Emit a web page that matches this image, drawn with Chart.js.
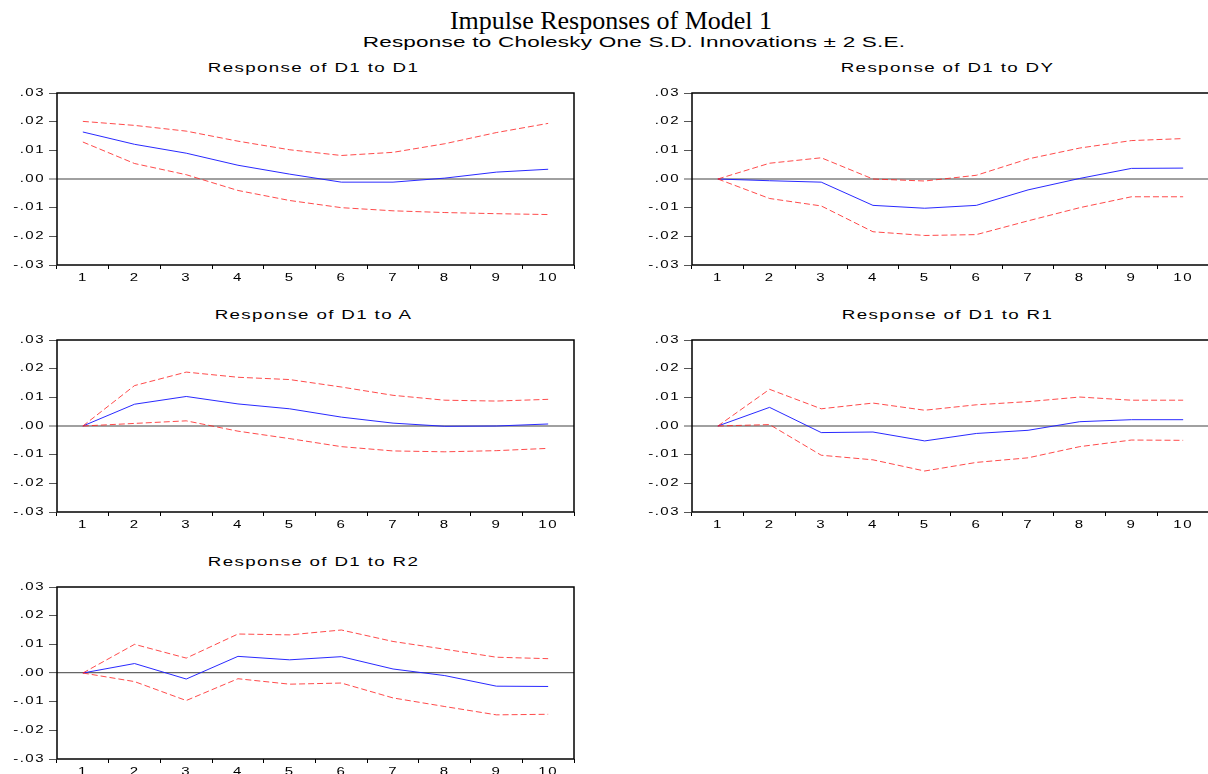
<!DOCTYPE html>
<html>
<head>
<meta charset="utf-8">
<title>Impulse Responses of Model 1</title>
<script src="https://cdn.jsdelivr.net/npm/chart.js@4.4.1/dist/chart.umd.min.js"></script>
<style>
  body {
    margin: 0;
    width: 1208px;
    height: 774px;
    overflow: hidden;
    position: relative;
    background: #fff;
    font-family: "Liberation Sans", Arial, sans-serif;
    color: #000;
  }
  .txt { position: absolute; white-space: nowrap; text-align: center; }
  #title {
    font-family: "Liberation Serif", "Times New Roman", serif;
    font-size: 26px; line-height: 26px;
    left: 311px; width: 600px; top: 8px;
  }
  /* the sans-serif labels are drawn wide, like the rest of the graph text */
  .wide { transform: scaleX(1.5); transform-origin: 50% 50%; }
  #subtitle {
    font-size: 15px; line-height: 15px; letter-spacing: 0.15px;
    left: 334px; width: 600px; top: 34px;
  }
  .ptitle { font-size: 12.5px; line-height: 12.5px; letter-spacing: 0.9px; width: 517px; }
  .panel { position: absolute; }
</style>
</head>
<body>
<div id="title" class="txt">Impulse Responses of Model 1</div>
<div id="subtitle" class="txt wide">Response to Cholesky One S.D. Innovations ± 2 S.E.</div>

<div class="txt ptitle wide" style="left:55px; top:62px;">Response of D1 to D1</div>
<div class="txt ptitle wide" style="left:689px; top:62px;">Response of D1 to DY</div>
<div class="txt ptitle wide" style="left:55px; top:309px;">Response of D1 to A</div>
<div class="txt ptitle wide" style="left:689px; top:309px;">Response of D1 to R1</div>
<div class="txt ptitle wide" style="left:55px; top:556px;">Response of D1 to R2</div>

<canvas id="c1" class="panel" width="576" height="212" style="left:0px; top:83px;"></canvas>
<canvas id="c2" class="panel" width="576" height="212" style="left:635px; top:83px;"></canvas>
<canvas id="c3" class="panel" width="576" height="212" style="left:0px; top:330px;"></canvas>
<canvas id="c4" class="panel" width="576" height="212" style="left:635px; top:330px;"></canvas>
<canvas id="c5" class="panel" width="576" height="212" style="left:0px; top:577px;"></canvas>

<script>
// horizon (periods after the shock)
var periods = ["1", "2", "3", "4", "5", "6", "7", "8", "9", "10"];
var yTickLabels = ["-.03", "-.02", "-.01", ".00", ".01", ".02", ".03"];

// response of D1 to D1, with +/- 2 S.E. bands
var d1D1 = [0.0164, 0.0121, 0.0090, 0.0048, 0.0017, -0.0011, -0.0011, 0.0003, 0.0024, 0.0034];
var d1D1Hi = [0.0201, 0.0187, 0.0167, 0.0132, 0.0102, 0.0082, 0.0093, 0.0123, 0.0162, 0.0194];
var d1D1Lo = [0.0129, 0.0054, 0.0015, -0.0040, -0.0075, -0.0100, -0.0111, -0.0117, -0.0121, -0.0124];

// response of D1 to DY
var d1DY = [0.0, -0.0006, -0.0011, -0.0092, -0.0102, -0.0092, -0.0038, 0.0002, 0.0037, 0.0038];
var d1DYHi = [0.0, 0.0055, 0.0074, 0.0, -0.0007, 0.0013, 0.0070, 0.0108, 0.0134, 0.0141];
var d1DYLo = [0.0, -0.0068, -0.0094, -0.0184, -0.0197, -0.0194, -0.0146, -0.0100, -0.0062, -0.0062];

// response of D1 to A
var d1A = [0.0, 0.0076, 0.0103, 0.0077, 0.0060, 0.0031, 0.0010, -0.0001, 0.0, 0.0007];
var d1AHi = [0.0, 0.0141, 0.0188, 0.0170, 0.0162, 0.0136, 0.0107, 0.0090, 0.0087, 0.0093];
var d1ALo = [0.0, 0.0009, 0.0018, -0.0018, -0.0044, -0.0072, -0.0087, -0.0090, -0.0086, -0.0078];

// response of D1 to R1
var d1R1 = [0.0, 0.0065, -0.0023, -0.0021, -0.0052, -0.0026, -0.0015, 0.0015, 0.0022, 0.0022];
var d1R1Hi = [0.0, 0.0128, 0.0060, 0.0080, 0.0055, 0.0074, 0.0085, 0.0101, 0.0090, 0.0090];
var d1R1Lo = [0.0, 0.0005, -0.0102, -0.0118, -0.0157, -0.0127, -0.0111, -0.0072, -0.0049, -0.0050];

// response of D1 to R2
var d1R2 = [0.0, 0.0033, -0.0021, 0.0058, 0.0046, 0.0057, 0.0014, -0.0009, -0.0046, -0.0047];
var d1R2Hi = [0.0, 0.0100, 0.0052, 0.0136, 0.0133, 0.0150, 0.0110, 0.0083, 0.0055, 0.0050];
var d1R2Lo = [0.0, -0.0030, -0.0096, -0.0020, -0.0039, -0.0035, -0.0087, -0.0117, -0.0146, -0.0144];

// box around the plot area, and slight letter spacing for the axis labels
var framePlugin = {
  id: "frame",
  beforeDraw: function (chart) {
    chart.ctx.letterSpacing = "1px";
  },
  afterDatasetsDraw: function (chart) {
    var ctx = chart.ctx;
    var a = chart.chartArea;
    ctx.save();
    ctx.strokeStyle = "#000";
    ctx.lineWidth = 1.5;
    ctx.strokeRect(a.left, a.top, a.right - a.left, a.bottom - a.top);
    ctx.restore();
  },
};

// axis labels are stretched horizontally around their anchor point
function widenText(ctx) {
  var fill = ctx.fillText;
  ctx.fillText = function (text, x, y) {
    this.save();
    this.translate(x, y);
    this.scale(1.5, 1);
    fill.call(this, text, 0, 0);
    this.restore();
  };
}

function bandLine(data) {
  return {
    data: data,
    borderColor: "rgba(255, 30, 30, 0.8)",
    borderWidth: 1,
    borderDash: [6, 3],
    pointRadius: 0,
    fill: false,
  };
}

function drawPanel(id, resp, hi, lo, zeroColor, zeroWidth) {
  var ctx = document.getElementById(id).getContext("2d");
  widenText(ctx);
  return new Chart(ctx, {
    type: "line",
    plugins: [framePlugin],
    data: {
      labels: periods,
      datasets: [
        bandLine(hi),
        bandLine(lo),
        {
          data: resp,
          borderColor: "rgba(30, 30, 255, 0.95)",
          borderWidth: 1,
          pointRadius: 0,
          fill: false,
        },
      ],
    },
    options: {
      responsive: false,
      animation: false,
      devicePixelRatio: 1,
      layout: { padding: { top: 8, right: 2, left: 0, bottom: 0 } },
      plugins: {
        legend: { display: false },
        tooltip: { enabled: false },
      },
      scales: {
        x: {
          offset: true,
          border: { display: false },
          grid: {
            offset: true,
            drawOnChartArea: false,
            tickLength: 4,
            tickColor: "#000",
            tickWidth: 1,
          },
          ticks: {
            padding: 3,
            color: "#000",
            maxRotation: 0,
            autoSkip: false,
            font: { family: "Liberation Sans", size: 10 },
          },
          afterFit: function (scale) {
            scale.height = 30;
          },
        },
        y: {
          min: -0.03,
          max: 0.03,
          border: { display: false },
          grid: {
            tickLength: 8,
            tickColor: "#555",
            tickWidth: 1,
            color: function (c) {
              return c.tick && Math.round(c.tick.value * 100) === 0 ? zeroColor : "rgba(0,0,0,0)";
            },
            lineWidth: function (c) {
              return c.tick && Math.round(c.tick.value * 100) === 0 ? zeroWidth : 1;
            },
          },
          ticks: {
            stepSize: 0.01,
            padding: 4,
            color: "#000",
            font: { family: "Liberation Sans", size: 10 },
            callback: function (value) {
              return yTickLabels[Math.round(value * 100) + 3];
            },
          },
          afterFit: function (scale) {
            scale.width = 57;
          },
        },
      },
    },
  });
}

drawPanel("c1", d1D1, d1D1Hi, d1D1Lo, "#a0a0a0", 2);
drawPanel("c2", d1DY, d1DYHi, d1DYLo, "#a0a0a0", 2);
drawPanel("c3", d1A, d1AHi, d1ALo, "#a0a0a0", 2);
drawPanel("c4", d1R1, d1R1Hi, d1R1Lo, "#a0a0a0", 2);
drawPanel("c5", d1R2, d1R2Hi, d1R2Lo, "#666", 1.2);
</script>
</body>
</html>
